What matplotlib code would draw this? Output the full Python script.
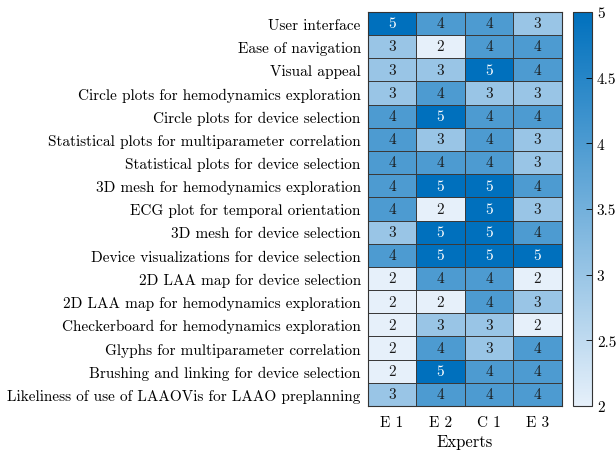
"""Expert ratings heatmap for LAAOVis components."""

import matplotlib
matplotlib.use("Agg")
import matplotlib.pyplot as plt
import numpy as np
from matplotlib.colors import LinearSegmentedColormap
from matplotlib.ticker import FormatStrFormatter

criteria = [
    "User interface",
    "Ease of navigation",
    "Visual appeal",
    "Circle plots for hemodynamics exploration",
    "Circle plots for device selection",
    "Statistical plots for multiparameter correlation",
    "Statistical plots for device selection",
    "3D mesh for hemodynamics exploration",
    "ECG plot for temporal orientation",
    "3D mesh for device selection",
    "Device visualizations for device selection",
    "2D LAA map for device selection",
    "2D LAA map for hemodynamics exploration",
    "Checkerboard for hemodynamics exploration",
    "Glyphs for multiparameter correlation",
    "Brushing and linking for device selection",
    "Likeliness of use of LAAOVis for LAAO preplanning",
]
experts = ["E 1", "E 2", "C 1", "E 3"]

e1 = [5, 3, 3, 3, 4, 4, 4, 4, 4, 3, 4, 2, 2, 2, 2, 2, 3]
e2 = [4, 2, 3, 4, 5, 3, 4, 5, 2, 5, 5, 4, 2, 3, 4, 5, 4]
c1 = [4, 4, 5, 3, 4, 4, 4, 5, 5, 5, 5, 4, 4, 3, 3, 4, 4]
e3 = [3, 4, 4, 3, 4, 3, 3, 4, 3, 4, 5, 2, 3, 2, 4, 4, 4]
cbar_ticks = [2, 2.5, 3, 3.5, 4, 4.5, 5]

plt.rcParams["font.family"] = "cmr10"
plt.rcParams["axes.formatter.use_mathtext"] = True
plt.rcParams["mathtext.fontset"] = "cm"

scores = np.array([e1, e2, c1, e3]).T
cmap = LinearSegmentedColormap.from_list("ratings", [(0.90, 0.94, 0.98), (0.0, 0.44, 0.74)])

fig = plt.figure(figsize=(6.16, 4.52), dpi=100)
ax = fig.add_axes([0.597, 0.0996, 0.315, 0.872])
cax = fig.add_axes([0.930, 0.0996, 0.031, 0.872])

mesh = ax.pcolormesh(scores, cmap=cmap, vmin=2, vmax=5, edgecolors="#3a3a3a", linewidth=0.5)
ax.set_xlim(0, len(experts))
ax.set_ylim(len(criteria), 0)

for i in range(scores.shape[0]):
    for j in range(scores.shape[1]):
        value = scores[i, j]
        ax.text(j + 0.5, i + 0.5, str(value), ha="center", va="center", fontsize=11,
                color="white" if value >= 5 else "#1a1a1a")

ax.set_xticks(np.arange(len(experts)) + 0.5)
ax.set_xticklabels(experts, fontsize=11)
ax.set_yticks(np.arange(len(criteria)) + 0.5)
ax.set_yticklabels(criteria, fontsize=11)
ax.tick_params(axis="y", length=0, pad=5)
ax.tick_params(axis="x", length=0, pad=7)
ax.set_xlabel("Experts", fontsize=12, labelpad=3)
for spine in ax.spines.values():
    spine.set_color("#333333")
    spine.set_linewidth(0.8)

cbar = fig.colorbar(mesh, cax=cax)
cbar.set_ticks(cbar_ticks)
cbar.ax.yaxis.set_major_formatter(FormatStrFormatter("%g"))
cbar.ax.tick_params(direction="in", length=4, width=0.6, labelsize=11)
cbar.outline.set_edgecolor("#333333")
cbar.outline.set_linewidth(0.8)

fig.savefig("out.png", dpi=100)
